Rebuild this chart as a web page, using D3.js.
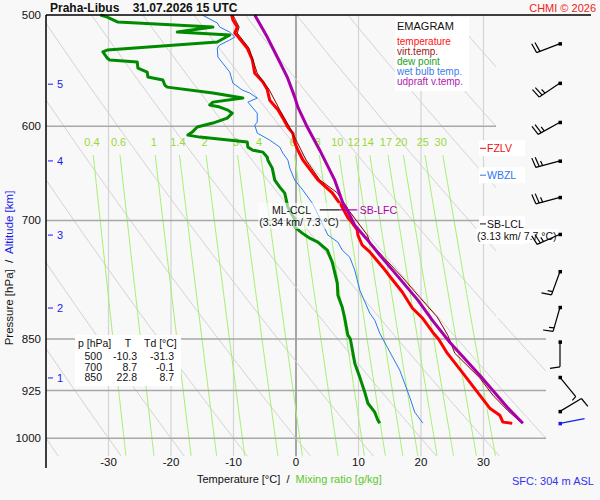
<!DOCTYPE html>
<html>
<head>
<meta charset="utf-8">
<script src="https://cdn.jsdelivr.net/npm/d3@7"></script>
<style>
  body { margin: 0; background: #f8f8f8; }
  svg { display: block; font-family: "Liberation Sans", Arial, sans-serif; }
</style>
</head>
<body>
<svg id="chart" width="600" height="500"></svg>
<script>
// ---- data: [pressure hPa, temperature °C] ----
const temperature = [[500,-10.3],[504,-10.1],[510,-9.4],[515,-9.8],[518,-9.3],[528,-7.8],[538,-7.0],[550,-6.6],
  [558,-5.3],[565,-4.6],[575,-4.2],[584,-2.9],[592,-2.1],[601,-1.3],[607,-0.5],[616,-0.2],[624,0.3],[634,1.1],
  [655,3.5],[669,5.8],[685,7.4],[697,8.3],[700,8.7],[711,9.8],[717,9.9],[729,10.6],[737,11.8],[756,13.9],
  [772,15.5],[787,17.0],[808,18.6],[822,20.3],[841,21.9],[850,22.8],[870,24.2],[899,26.7],[927,29.0],
  [952,31.0],[963,32.6],[974,33.1],[976,34.6]];

const virtTemp = [[500,-10.1],[510,-9.1],[515,-9.4],[528,-7.5],[550,-6.2],[565,-4.3],[584,-2.6],[601,-1.0],
  [616,0.2],[634,1.6],[655,3.8],[669,6.6],[690,8.6],[717,11.4],[725,11.8],[745,14.2],[769,17.1],[794,19.8],
  [820,22.6],[845,24.3],[870,25.4],[906,29.4],[932,31.5],[955,33.8],[963,34.7],[976,36.2]];

const dewPoint = [[500,-31.3],[501.7,-30.2],[505.8,-28.5],[510,-13.3],[514.2,-19.0],[516.7,-10.6],[522.6,-12.6],
  [529.5,-30.2],[531.2,-30.9],[536.5,-30.2],[538.3,-29.8],[540,-25.4],[545.4,-25.3],[549,-23.8],[553.5,-23.7],
  [556.2,-21.3],[560.8,-21.0],[562.7,-20.6],[568.2,-13.3],[572.9,-8.5],[576.7,-13.3],[579.5,-13.8],[581.4,-12.2],
  [584.3,-10.9],[587.2,-10.2],[592,-11.0],[596.8,-13.3],[600.7,-15.8],[605.7,-16.6],[608.7,-17.3],[610.7,-15.4],
  [615.7,-7.8],[620.8,-7.7],[623.9,-6.9],[625.9,-5.3],[631.1,-4.6],[634.2,-4.5],[642.5,-3.8],[655.3,-3.4],
  [662.8,-2.6],[669.4,-1.8],[684.9,-1.3],[700,-0.1],[707.7,-0.2],[714.7,1.0],[720.6,2.2],[725.3,3.5],[734.9,5.0],
  [749.5,5.8],[775.7,6.6],[791.1,6.7],[806.9,7.4],[821.5,7.8],[844.7,8.3],[850,8.7],[884.3,9.4],[904.8,10.2],
  [927.4,11.0],[944.3,11.5],[958.3,12.6],[970.9,13.1],[975.7,13.4]];

const wetBulb = [[500,-15.0],[506.6,-12.6],[510,-12.2],[514.2,-10.6],[518.4,-9.8],[520.9,-10.6],[525.2,-12.2],
  [527.8,-12.6],[535.6,-12.5],[549,-10.6],[559,-10.1],[565.4,-8.6],[568.2,-7.4],[572.9,-6.2],[576.7,-7.7],
  [587.2,-6.2],[595.9,-6.2],[598.8,-6.6],[606.7,-6.2],[613.7,-4.2],[620.8,-2.6],[626.9,-2.1],[634.2,-1.3],
  [642.5,-1.0],[655.3,-0.2],[666.1,1.1],[680.4,2.6],[697.3,3.8],[717,5.1],[725.3,6.7],[734.9,7.4],[743.4,8.6],
  [759.4,9.4],[784.6,10.2],[814.8,11.8],[824.2,12.6],[842,13.4],[861.5,14.6],[894.6,16.6],[935,18.2],
  [958.3,19.0],[975.7,20.3]];

const updraft = [[500,-6.6],[518.4,-4.6],[535.6,-3.0],[553.5,-1.4],[572,-0.2],[581.4,0.3],[600.7,1.8],
  [623.9,3.8],[655.3,6.2],[680.4,7.5],[688.3,8.2],[705.4,9.4],[720.6,11.2],[740.9,13.4],[771.9,16.8],
  [797.6,19.5],[824.2,21.8],[854.5,24.6],[901.9,29.4],[950.5,33.8],[975.7,36.3]];

// axes / grid
const pressureLevels = [500, 600, 700, 850, 925, 1000];
const tempTicks = [-30, -20, -10, 0, 10, 20, 30];
const mixingRatios = [0.4, 0.6, 1, 1.4, 2, 3, 4, 6, 8, 10, 12, 14, 17, 20, 25, 30];
const adiabatBase = d3.range(-70, 101, 10); // T at 1000 hPa
const altitudeKm = [1, 2, 3, 4, 5];
const altitudeP = [906, 808, 717, 635, 560];

// winds: pressure, direction (deg), speed (kt)
const windP = [524, 559, 596, 635, 674, 716, 761, 807, 854, 905, 957];
const windDir = [249, 236, 241, 255, 255, 246, 200, 196, 180, 141, 59];
const windSpd = [20, 25, 25, 25, 25, 25, 15, 15, 10, 5, 10];
const sfcWind = {p: 976, dir: 79, spd: 2};

// table
const tableP = ["500", "700", "850"];
const tableT = ["-10.3", "8.7", "22.8"];
const tableTd = ["-31.3", "-0.1", "8.7"];

// special levels
const levelFZLV = 622, levelWBZL = 650, levelSBLCL = 704, levelCCL = 688;

const svg = d3.select("#chart");

let x = d3.scaleLinear().domain([-40, 32]).range([46, 496]);
let y = d3.scaleLog().domain([500, 1050]).range([15, 468]);

let line = d3.line().x(d => x(d[1])).y(d => y(d[0]));
let px = d3.line().x(d => d[0]).y(d => d[1]);

// clip region: plot box plus the lower-right extension
svg.append("clipPath").attr("id", "plotclip").append("path")
  .attr("d", `M${x(-40)},${y(500)}H${x(32)}V${y(822)}H${x(40)}V${y(1050)}H${x(-40)}Z`);

let grid = svg.append("g").attr("clip-path", "url(#plotclip)");

// temperature verticals
grid.selectAll(".tgrid").data(tempTicks).join("line")
  .attr("x1", d => x(d)).attr("x2", d => x(d))
  .attr("y1", y(500)).attr("y2", y(1030))
  .attr("stroke", d => d === 0 ? "#8a8a8a" : "#d4d4d4")
  .attr("stroke-width", d => d === 0 ? 1.5 : 1.2);

// dry adiabats
let adiabatP = d3.range(500, 1031, 5);
grid.selectAll(".adiabat").data(adiabatBase).join("path")
  .attr("d", t0 => px(adiabatP.map(p => [x((t0 + 273.15) * Math.pow(p / 1000, 0.286) - 273.15), y(p)])))
  .attr("fill", "none").attr("stroke", "#d2d2d2").attr("stroke-width", 1);

// mixing ratio lines
let mixT = (w, p) => {
  let e = w * p / (622 + w);
  let l = Math.log(e / 6.112);
  return 243.5 * l / (17.67 - l);
};
let mixP = d3.range(629, 1031, 5);
grid.selectAll(".mix").data(mixingRatios).join("path")
  .attr("d", w => px(mixP.map(p => [x(mixT(w, p)), y(p)])))
  .attr("fill", "none").attr("stroke", "#a4f070").attr("stroke-width", 1);

// pressure horizontals
grid.selectAll(".pgrid").data(pressureLevels.slice(1)).join("line")
  .attr("x1", x(-40)).attr("x2", x(40))
  .attr("y1", d => y(d)).attr("y2", d => y(d))
  .attr("stroke", "#a8a8a8").attr("stroke-width", 1.5);

// mixing ratio labels
svg.selectAll(".mixlab").data(mixingRatios).join("text")
  .attr("x", w => x(mixT(w, 616))).attr("y", y(616) + 4)
  .attr("text-anchor", "middle").attr("font-size", 11).attr("fill", "#9ad83a")
  .text(d => d);

// profiles
let prof = svg.append("g").attr("fill", "none").attr("stroke-linejoin", "round");
prof.append("path").attr("d", line(wetBulb)).attr("stroke", "#2a78f0").attr("stroke-width", 1);
prof.append("path").attr("d", line(dewPoint)).attr("stroke", "#008a00").attr("stroke-width", 3);
prof.append("path").attr("d", line(temperature)).attr("stroke", "#ff0000").attr("stroke-width", 3);
prof.append("path").attr("d", line(virtTemp)).attr("stroke", "#8b0000").attr("stroke-width", 1);
prof.append("path").attr("d", line(updraft)).attr("stroke", "#a800a8").attr("stroke-width", 3);

// axes frame
svg.append("line").attr("x1", x(-40)).attr("x2", x(-40)).attr("y1", y(500)).attr("y2", y(1050))
  .attr("stroke", "#000").attr("stroke-width", 1.5);
svg.append("line").attr("x1", x(-40)).attr("x2", 591).attr("y1", y(500)).attr("y2", y(500))
  .attr("stroke", "#000").attr("stroke-width", 1.5);

svg.selectAll(".plab").data(pressureLevels).join("text")
  .attr("x", 41).attr("y", d => y(d) + 4).attr("text-anchor", "end")
  .attr("font-size", 11.5).attr("fill", "#111").text(d => d);

svg.selectAll(".tlab").data(tempTicks).join("text")
  .attr("x", d => x(d)).attr("y", 466).attr("text-anchor", "middle")
  .attr("font-size", 11.5).attr("fill", "#111").text(d => d);

// altitude ticks
let alt = svg.append("g").attr("fill", "#1a1aee").attr("stroke", "#1a1aee");
altitudeKm.forEach((km, i) => {
  alt.append("line").attr("x1", 48).attr("x2", 53).attr("y1", y(altitudeP[i])).attr("y2", y(altitudeP[i]));
  alt.append("text").attr("x", 57).attr("y", y(altitudeP[i]) + 4).attr("stroke", "none")
    .attr("font-size", 11).text(km);
});

// titles
svg.append("text").attr("x", 50).attr("y", 12).attr("font-size", 12).attr("font-weight", "bold")
  .attr("fill", "#111").attr("xml:space", "preserve").text("Praha-Libus    31.07.2026 15 UTC");
svg.append("text").attr("x", 596).attr("y", 12).attr("text-anchor", "end").attr("font-size", 11)
  .attr("fill", "#ee1c1c").text("CHMI \u00a9 2026");

let yt = svg.append("text").attr("transform", "translate(13,268) rotate(-90)")
  .attr("text-anchor", "middle").attr("font-size", 11.5).attr("xml:space", "preserve");
yt.append("tspan").attr("fill", "#111").text("Pressure [hPa]  /  ");
yt.append("tspan").attr("fill", "#1a1aee").text("Altitude [km]");

let xt = svg.append("text").attr("x", 197).attr("y", 483).attr("font-size", 11).attr("xml:space", "preserve");
xt.append("tspan").attr("fill", "#111").text("Temperature [\u00b0C]  /  ");
xt.append("tspan").attr("fill", "#5cc82a").text("Mixing ratio [g/kg]");

svg.append("text").attr("x", 512).attr("y", 485).attr("font-size", 11).attr("fill", "#3333ee")
  .text("SFC: 304 m ASL");

// legend
let leg = svg.append("g");
leg.append("rect").attr("x", 395).attr("y", 17).attr("width", 74).attr("height", 74).attr("fill", "#fff");
leg.append("text").attr("x", 397).attr("y", 30).attr("font-size", 11).attr("fill", "#111").text("EMAGRAM");
let legItems = ["temperature", "virt.temp.", "dew point", "wet bulb temp.", "udpraft v.temp."];
let legColors = ["#ff1010", "#a01818", "#22a022", "#3a7cf0", "#b020b0"];
leg.selectAll(".li").data(legItems).join("text")
  .attr("x", 397).attr("y", (d, i) => 45 + i * 10).attr("font-size", 10)
  .attr("fill", (d, i) => legColors[i]).text(d => d);

// table
let tb = svg.append("g").attr("font-size", 10.5).attr("fill", "#111");
tb.append("rect").attr("x", 75).attr("y", 335).attr("width", 106).attr("height", 51).attr("fill", "#fff");
tb.append("text").attr("x", 78).attr("y", 347).text("p [hPa]");
tb.append("text").attr("x", 128).attr("y", 347).attr("text-anchor", "middle").text("T");
tb.append("text").attr("x", 144).attr("y", 347).text("Td [\u00b0C]");
tableP.forEach((p, i) => {
  let ty = 360 + i * 10.5;
  tb.append("text").attr("x", 102).attr("y", ty).attr("text-anchor", "end").text(p);
  tb.append("text").attr("x", 137).attr("y", ty).attr("text-anchor", "end").text(tableT[i]);
  tb.append("text").attr("x", 174).attr("y", ty).attr("text-anchor", "end").text(tableTd[i]);
});

// level annotations on the right
let ann = svg.append("g").attr("font-size", 10.5);
let sideLabel = (p, txt, col, sub) => {
  let yy = y(p);
  ann.append("rect").attr("x", 479).attr("y", yy - 8).attr("width", 46).attr("height", sub ? 28 : 16).attr("fill", "#fff");
  if (sub) ann.append("rect").attr("x", 476).attr("y", yy + 5).attr("width", 82).attr("height", 14).attr("fill", "#fff");
  ann.append("line").attr("x1", 480).attr("x2", 486).attr("y1", yy).attr("y2", yy).attr("stroke", col);
  ann.append("text").attr("x", 487).attr("y", yy + 4).attr("fill", col).text(txt);
  if (sub) ann.append("text").attr("x", 477).attr("y", yy + 16).attr("fill", "#111").text(sub);
};
sideLabel(levelFZLV, "FZLV", "#ee1111", null);
sideLabel(levelWBZL, "WBZL", "#2a78f0", null);
sideLabel(levelSBLCL, "SB-LCL", "#111", "(3.13 km/ 7.7 \u00b0C)");

// ML-CCL and SB-LFC markers
let yc = y(levelCCL);
ann.append("rect").attr("x", 258).attr("y", yc - 7).attr("width", 82).attr("height", 26)
  .attr("fill", "#fff").attr("opacity", 0.6);
ann.append("text").attr("x", 311).attr("y", yc + 4).attr("text-anchor", "end").attr("fill", "#111").text("ML-CCL");
ann.append("text").attr("x", 299).attr("y", yc + 16).attr("text-anchor", "middle").attr("fill", "#111")
  .text("(3.34 km/ 7.3 \u00b0C)");
ann.append("line").attr("x1", x(3.8)).attr("x2", x(7.0)).attr("y1", yc).attr("y2", yc).attr("stroke", "#111").attr("stroke-width", 1.2);
ann.append("line").attr("x1", x(7.0)).attr("x2", x(9.8)).attr("y1", yc).attr("y2", yc).attr("stroke", "#a800a8").attr("stroke-width", 1.2);
ann.append("text").attr("x", x(10.2)).attr("y", yc + 4).attr("fill", "#a800a8").text("SB-LFC");

// wind barbs
let barbs = svg.append("g");
let drawBarb = (py, dir, spd, col) => {
  let bx = 560;
  let r = dir * Math.PI / 180, hx = Math.sin(r), hy = -Math.cos(r);
  let nx = -hy, ny = hx;
  let L = 25, tx = bx + hx * L, ty = py + hy * L;
  let g = barbs.append("g").attr("stroke", col).attr("stroke-width", 1.2).attr("fill", "none");
  g.append("line").attr("x1", bx).attr("y1", py).attr("x2", tx).attr("y2", ty);
  g.append("rect").attr("x", bx - 1.5).attr("y", py - 1.5).attr("width", 3.5).attr("height", 3.5)
    .attr("fill", col).attr("stroke", "none");
  let s = spd, k = 0;
  while (s >= 10) {
    let fx = tx - hx * k * 3.5, fy = ty - hy * k * 3.5;
    g.append("line").attr("x1", fx).attr("y1", fy).attr("x2", fx + nx * 10 + hx * 1.5).attr("y2", fy + ny * 10 + hy * 1.5);
    s -= 10; k++;
  }
  if (s >= 5) {
    let fx = tx - hx * k * 3.5, fy = ty - hy * k * 3.5;
    g.append("line").attr("x1", fx).attr("y1", fy).attr("x2", fx + nx * 5 + hx * 0.8).attr("y2", fy + ny * 5 + hy * 0.8);
  }
};
windP.forEach((p, i) => drawBarb(y(p), windDir[i], windSpd[i], "#000"));
drawBarb(y(sfcWind.p), sfcWind.dir, sfcWind.spd, "#1a1aee");
</script>
</body>
</html>
